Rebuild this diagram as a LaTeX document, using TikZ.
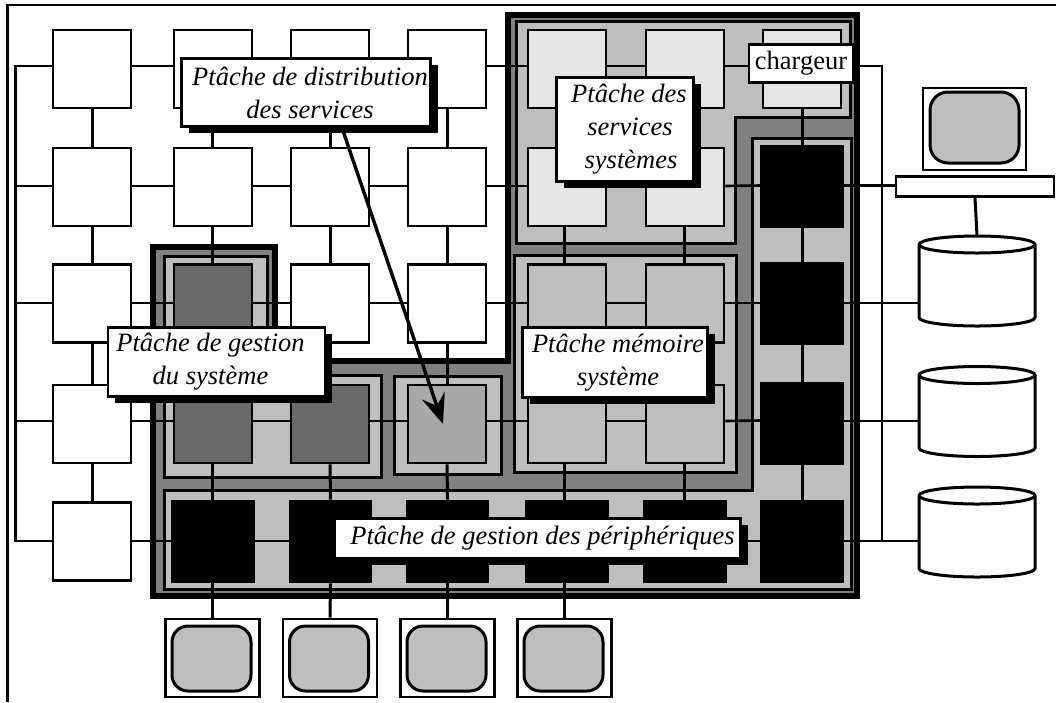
\documentclass[tikz,border=0pt]{standalone}
\usepackage{fontspec}
\setmainfont{Liberation Serif}
\usetikzlibrary{arrows.meta,shadows}
\pgfdeclarelayer{grp}\pgfdeclarelayer{conn}\pgfdeclarelayer{lbl}
\pgfsetlayers{grp,conn,main,lbl}
\definecolor{gA}{gray}{0.745}
\definecolor{gB}{gray}{0.502}
\definecolor{gLight}{gray}{0.90}
\definecolor{gDark}{gray}{0.415}
\definecolor{gMid}{gray}{0.66}
\tikzset{
  cell/.style={draw=black,line width=2.8pt,minimum width=78pt,minimum height=78pt,inner sep=0pt,rectangle},
  cellW/.style={cell,fill=white},
  cellL/.style={cell,fill=gLight},
  cellD/.style={cell,fill=gDark},
  cellM/.style={cell,fill=gMid},
  cellG/.style={cell,fill=gA},
  cellB/.style={cell,fill=black,minimum width=81pt,minimum height=81pt},
  link/.style={draw=black,line width=2.6pt},
  region/.style={draw=black,line width=3pt,fill=gA,line join=miter},
  outerregion/.style={draw=black,line width=6pt,fill=gB,line join=miter},
  screenbox/.style={draw=black,line width=2.8pt,fill=white,rectangle,inner sep=0pt},
  tube/.style={draw=black,line width=3pt,fill=gA,rectangle,rounded corners=16pt,inner sep=0pt},
  disk/.style={rectangle,minimum width=116pt,minimum height=90pt,inner sep=0pt,outer sep=0pt},
  diskline/.style={draw=black,line width=3pt,fill=white,line join=round},
  lbl/.style={draw=black,fill=white,line width=2.8pt,inner sep=0pt,align=center,rectangle,
     font=\fontsize{26.5}{33}\selectfont\itshape,
     drop shadow={shadow xshift=7pt,shadow yshift=-6pt,fill=black,opacity=1}},
  lblr/.style={draw=black,fill=white,line width=2.8pt,inner sep=0pt,align=center,rectangle,
     font=\fontsize{26.5}{33}\selectfont},
}
\begin{document}
\begin{tikzpicture}[x=1pt,y=-1pt]
\useasboundingbox (0,0) rectangle (1056,702);
% regions
\begin{pgfonlayer}{grp}
\fill[white] (0,0) rectangle (1056,702);
\draw[line width=2.6pt] (7.5,702) -- (7.5,5) -- (1056,5);
\path[outerregion] (153,247) -- (275,247) -- (275,361) -- (508,361) -- (508,14.5) -- (856.5,14.5) -- (856.5,596) -- (153,596) -- cycle;
\path[region] (516,21) -- (850,21) -- (850,117) -- (735,117) -- (735,243) -- (516,243) -- cycle;
\path[region] (752,138) -- (851,138) -- (851,589) -- (164,589) -- (164,490) -- (752,490) -- cycle;
\path[region] (164,256) -- (267,256) -- (267,375) -- (381,375) -- (381,477) -- (164,477) -- cycle;
\path[region] (394,376) rectangle (501,474);
\path[region] (514,255) rectangle (736,472);
\end{pgfonlayer}
% cells
\node[cellW] (b11) at (92,69) {};   \node[cellW] (b21) at (213,69) {};  \node[cellW] (b31) at (330,69) {};  \node[cellW] (b41) at (447,69) {};
\node[cellL] (b51) at (567,69) {};  \node[cellL] (b61) at (685,69) {};  \node[cellL] (b71) at (802,69) {};
\node[cellW] (b12) at (92,187) {};  \node[cellW] (b22) at (213,187) {}; \node[cellW] (b32) at (330,187) {}; \node[cellW] (b42) at (447,187) {};
\node[cellL] (b52) at (567,187) {}; \node[cellL] (b62) at (685,187) {}; \node[cellB] (b72) at (802,186.5) {};
\node[cellW] (b13) at (92,303.5) {};\node[cellD] (b23) at (213,303.5) {};\node[cellW] (b33) at (330,303.5) {};\node[cellW] (b43) at (447,303.5) {};
\node[cellG] (b53) at (567,303.5) {};\node[cellG] (b63) at (685,303.5) {};\node[cellB] (b73) at (802,303.5) {};
\node[cellW] (b14) at (92,424) {};  \node[cellD] (b24) at (213,424) {}; \node[cellD] (b34) at (330,424) {}; \node[cellM] (b44) at (447,424) {};
\node[cellG] (b54) at (567,424) {}; \node[cellG] (b64) at (685,424) {}; \node[cellB] (b74) at (802,423.5) {};
\node[cellW] (b15) at (92,541.5) {};\node[cellB] (b25) at (213,541.5) {};\node[cellB] (b35) at (330.5,541.5) {};\node[cellB] (b45) at (447.5,541.5) {};
\node[cellB] (b55) at (567,541.5) {};\node[cellB] (b65) at (685,541.5) {};\node[cellB] (b75) at (802,541.5) {};
% monitors
\foreach \n/\x in {1/212.5,2/330,3/447.5,4/564.5}{
  \node[screenbox,minimum width=94pt,minimum height=78pt] (m\n) at (\x,658) {};
  \node[tube,minimum width=79pt,minimum height=65pt] (s\n) at (\x-1,658.5) {};
}
\node[screenbox,minimum width=103pt,minimum height=82pt] (m0) at (974.5,129) {};
\node[tube,rounded corners=18pt,minimum width=89pt,minimum height=71pt] (s0) at (974.5,127.5) {};
\node[screenbox,minimum width=158pt,minimum height=20pt] (kb) at (975,186.5) {};
% disks
\node[disk] (d1) at (977,281) {};
\node[disk] (d2) at (977,411.5) {};
\node[disk] (d3) at (977,532) {};
\foreach \d in {d1,d2,d3}{
  \draw[diskline] ([yshift=-8.5pt]\d.north west) arc[start angle=180,end angle=0,x radius=58pt,y radius=8.5pt]
     -- ([yshift=8.5pt]\d.south east) arc[start angle=0,end angle=-180,x radius=58pt,y radius=8.5pt] -- cycle;
  \draw[line width=3pt] ([yshift=-8.5pt]\d.north west) arc[start angle=180,end angle=360,x radius=58pt,y radius=8.5pt];
}
% connectors
\coordinate (busLt) at (15.5,66);
\coordinate (busLb) at (15.5,541);
\coordinate (busRt) at (882,66);
\coordinate (busRb) at (882,541);
\begin{pgfonlayer}{conn}
\foreach \r/\s in {1/3,2/1,3/0.5,4/3,5/0.5}{
  \foreach \c/\d in {1/2,2/3,3/4,4/5,5/6,6/7}{
    \draw[link] ([yshift=\s pt]b\c\r.east) -- ([yshift=\s pt]b\d\r.west);
  }
}
\foreach \c/\sx in {1/0,2/-1,3/0,4/0,5/-2.5,6/-1,7/0}{
  \foreach \r/\t in {1/2,2/3,3/4,4/5}{
    \draw[link,line width=3pt] ([xshift=\sx pt]b\c\r.south) -- ([xshift=\sx pt]b\c\t.north);
  }
}
\draw[link] ([yshift=3pt]b11.west) -- (busLt) -- (busLb) -- ([yshift=0.5pt]b15.west);
\draw[link] ([yshift=1pt]b12.west) -- (busLt |- 0,186);
\draw[link] ([yshift=0.5pt]b13.west) -- (busLt |- 0,303);
\draw[link] ([yshift=3pt]b14.west) -- (busLt |- 0,421);
\draw[link] ([yshift=3pt]b71.east) -- (busRt) -- (busRb);
\coordinate (e2) at ([yshift=1pt]b72.east);
\coordinate (e3) at ([yshift=0.5pt]b73.east);
\coordinate (e4) at ([yshift=2.5pt]b74.east);
\coordinate (e5) at ([yshift=0.5pt]b75.east);
\draw[link] (e2) -- (e2 -| kb.west);
\draw[link] (e3) -- (e3 -| d1.west);
\draw[link] (e4) -- (e4 -| d2.west);
\draw[link] (e5) -- (e5 -| d3.west);
\draw[link,line width=3pt] (kb.south) -- (d1.north);
\draw[link,line width=3pt] ([xshift=-1pt]b25.south) -- ([xshift=-.5pt]m1.north);
\draw[link,line width=3pt] (b35.south) -- (m2.north);
\draw[link,line width=3pt] (b45.south) -- (m3.north);
\draw[link,line width=3pt] ([xshift=-2.5pt]b55.south) -- (m4.north);
\end{pgfonlayer}
% labels
\begin{pgfonlayer}{lbl}
\node[lbl,minimum width=249pt,minimum height=68pt] (L1) at (306,92.5) {\kern8pt Pt\^ache de distribution\\\kern8pt des services};
\node[lbl,minimum width=137pt,minimum height=104pt] (L2) at (625,129.5) {\kern8pt Pt\^ache des\\\kern10pt services\\\kern12pt syst\`emes};
\node[lblr,minimum width=104pt,minimum height=38pt] (L3) at (801,63.5) {chargeur};
\node[lbl,minimum width=217pt,minimum height=69pt] (L4) at (216.5,362) {Pt\^ache de gestion\kern12pt\\du syst\`eme\kern12pt};
\node[lbl,minimum width=185pt,minimum height=70pt] (L5) at (615,362.5) {\kern6pt Pt\^ache m\'emoire\\\kern6pt syst\`eme};
\node[lbl,minimum width=406pt,minimum height=40pt] (L6) at (537.5,538.5) {\kern10pt Pt\^ache de gestion des p\'eriph\'eriques};
\end{pgfonlayer}
% arrow
\coordinate (tip) at (443,424);
\draw[line width=3.4pt,-{Stealth[length=30pt,width=24pt,inset=11pt]}] ([xshift=36pt]L1.south) -- (tip);
\end{tikzpicture}
\end{document}
